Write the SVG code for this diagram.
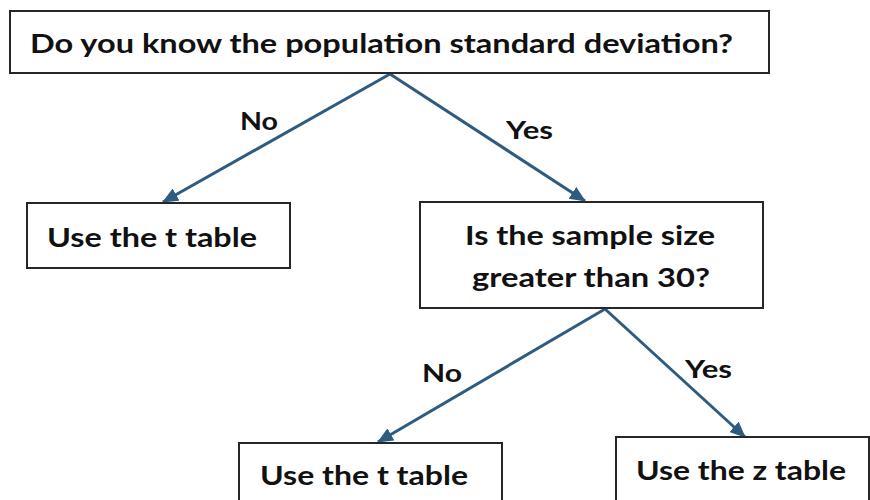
<svg xmlns="http://www.w3.org/2000/svg" width="870" height="500" viewBox="0 0 870 500">
<style>
.box{fill:#fff;stroke:#262626;stroke-width:2}
.t{font-family:Lato,"Open Sans","Liberation Sans",sans-serif;font-weight:700;fill:#111;font-size:27px}
.lbl{font-family:Lato,"Open Sans","Liberation Sans",sans-serif;font-weight:700;fill:#111;font-size:25px}
.edge{stroke:#2f5b80;stroke-width:3;fill:none;marker-end:url(#ah)}
</style>
<defs>
<marker id="ah" markerUnits="userSpaceOnUse" markerWidth="16" markerHeight="14" refX="15" refY="7" orient="auto">
<path d="M0,0 L16,7 L0,14 z" fill="#2f5b80"/>
</marker>
</defs>
<rect width="870" height="500" fill="#fff"/>
<g id="connectors">
<line class="edge" x1="390" y1="74" x2="163" y2="202"/>
<line class="edge" x1="390" y1="74" x2="585" y2="201"/>
<line class="edge" x1="605" y1="309" x2="378" y2="442"/>
<line class="edge" x1="605" y1="309" x2="745" y2="437"/>
<text class="lbl" x="240" y="130" textLength="38" lengthAdjust="spacingAndGlyphs">No</text>
<text class="lbl" x="506" y="139" textLength="47" lengthAdjust="spacingAndGlyphs">Yes</text>
<text class="lbl" x="422" y="382" textLength="40" lengthAdjust="spacingAndGlyphs">No</text>
<text class="lbl" x="685" y="378" textLength="47" lengthAdjust="spacingAndGlyphs">Yes</text>
</g>
<g id="q1">
<rect class="box" x="10" y="11" width="759" height="62"/>
<text class="t" x="30" y="53" font-size="28" textLength="703" lengthAdjust="spacingAndGlyphs">Do you know the population standard deviation?</text>
</g>
<g id="t1">
<rect class="box" x="27" y="203" width="263" height="65"/>
<text class="t" x="47" y="247" textLength="210" lengthAdjust="spacingAndGlyphs">Use the t table</text>
</g>
<g id="q2">
<rect class="box" x="420" y="202" width="343" height="106"/>
<text class="t" x="465" y="245" textLength="250" lengthAdjust="spacingAndGlyphs">Is the sample size</text>
<text class="t" x="472" y="287" textLength="238" lengthAdjust="spacingAndGlyphs">greater than 30?</text>
</g>
<g id="t2">
<rect class="box" x="239" y="443" width="263" height="70"/>
<text class="t" x="260" y="485" textLength="208" lengthAdjust="spacingAndGlyphs">Use the t table</text>
</g>
<g id="z">
<rect class="box" x="616" y="437" width="253" height="76"/>
<text class="t" x="636" y="480" textLength="210" lengthAdjust="spacingAndGlyphs">Use the z table</text>
</g>
</svg>
